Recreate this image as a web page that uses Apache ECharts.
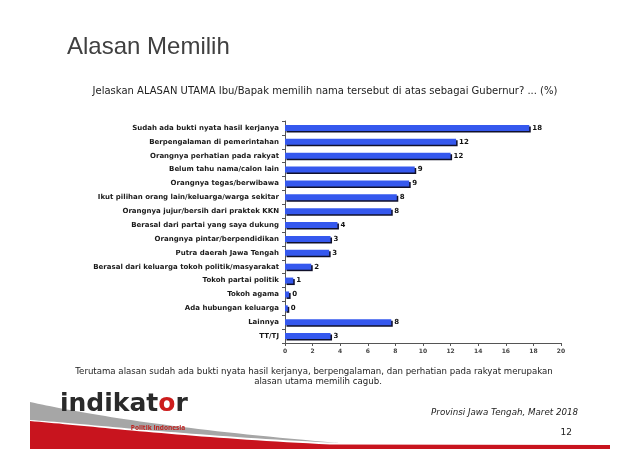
<!DOCTYPE html>
<html>
<head>
<meta charset="utf-8">
<script src="https://cdn.jsdelivr.net/npm/echarts@6/dist/echarts.min.js"></script>
<style>
html,body{margin:0;padding:0;background:#fff;}
#chart{width:640px;height:465px;}
</style>
</head>
<body>
<div id="chart"></div>
<script>
const categories = [
  'Sudah ada bukti nyata hasil kerjanya',
  'Berpengalaman di pemerintahan',
  'Orangnya perhatian pada rakyat',
  'Belum tahu nama/calon lain',
  'Orangnya tegas/berwibawa',
  'Ikut pilihan orang lain/keluarga/warga sekitar',
  'Orangnya jujur/bersih dari praktek KKN',
  'Berasal dari partai yang saya dukung',
  'Orangnya pintar/berpendidikan',
  'Putra daerah Jawa Tengah',
  'Berasal dari keluarga tokoh politik/masyarakat',
  'Tokoh partai politik',
  'Tokoh agama',
  'Ada hubungan keluarga',
  'Lainnya',
  'TT/TJ'
];
const values = [17.7, 12.4, 12.0, 9.4, 9.0, 8.1, 7.7, 3.8, 3.3, 3.2, 1.9, 0.6, 0.3, 0.2, 7.7, 3.3];
const xMin = 0, xMax = 20, xStep = 2;

const titleText = 'Alasan Memilih';
const questionText = 'Jelaskan ALASAN UTAMA Ibu/Bapak memilih nama tersebut di atas sebagai Gubernur? ... (%)';
const noteLine1 = 'Terutama alasan sudah ada bukti nyata hasil kerjanya, berpengalaman, dan perhatian pada rakyat merupakan';
const noteLine2 = 'alasan utama memilih cagub.';
const sourceText = 'Provinsi Jawa Tengah, Maret 2018';
const pageText = '12';

// cubic bezier sampler for the decorative swoosh
function bez(p0, p1, p2, p3, n) {
  const out = [];
  for (let i = 0; i <= n; i++) {
    const t = i / n, u = 1 - t;
    out.push([
      u*u*u*p0[0] + 3*u*u*t*p1[0] + 3*u*t*t*p2[0] + t*t*t*p3[0],
      u*u*u*p0[1] + 3*u*u*t*p1[1] + 3*u*t*t*p2[1] + t*t*t*p3[1]
    ]);
  }
  return out;
}
const greyTop = bez([30,402],[80,413],[170,429],[340,443], 40);
const greyBot = bez([340,443],[190,436],[90,424],[30,420], 40);
const redTop = bez([30,421],[90,426],[180,437],[330,444.5], 40);
const greyPts = greyTop.concat(greyBot);
const redPts = redTop.concat([[610,445],[610,449],[30,449]]);

const chart = echarts.init(document.getElementById('chart'), null, {renderer: 'canvas'});
const option = {
  backgroundColor: '#ffffff',
  animation: false,
  grid: {left: 285, right: 79, top: 121, bottom: 122, containLabel: false},
  xAxis: {
    type: 'value', min: xMin, max: xMax, interval: xStep,
    axisLine: {show: true, lineStyle: {color: '#555', width: 1}},
    axisTick: {show: true, length: 3, lineStyle: {color: '#555'}},
    splitLine: {show: false},
    axisLabel: {fontFamily: 'DejaVu Sans', fontWeight: 'bold', fontSize: 6, color: '#444', margin: 5}
  },
  yAxis: {
    type: 'category', data: categories, inverse: true,
    axisLine: {show: true, lineStyle: {color: '#555', width: 1}},
    axisTick: {show: true, length: 3, lineStyle: {color: '#555'}},
    axisLabel: {fontFamily: 'DejaVu Sans', fontWeight: 'bold', fontSize: 7, color: '#1a1a1a', margin: 6}
  },
  series: [{
    type: 'bar', data: values, barWidth: 6,
    itemStyle: {color: '#3558ee', shadowColor: '#10102a', shadowOffsetX: 1.5, shadowOffsetY: 1.5, shadowBlur: 0},
    label: {show: true, position: 'right', distance: 3, fontFamily: 'DejaVu Sans', fontWeight: 'bold', fontSize: 7, color: '#111',
      formatter: p => String(Math.round(p.value))}
  }],
  graphic: [
    {type: 'text', x: 67, y: 47, style: {text: titleText, fontFamily: 'Liberation Sans', fontSize: 24, fill: '#404040', textVerticalAlign: 'middle'}},
    {type: 'text', x: 325, y: 91, style: {text: questionText, fontFamily: 'DejaVu Sans', fontSize: 10, fill: '#222', textAlign: 'center', textVerticalAlign: 'middle'}},
    {type: 'text', x: 314, y: 372, style: {text: noteLine1, fontFamily: 'DejaVu Sans', fontSize: 8.6, fill: '#222', textAlign: 'center', textVerticalAlign: 'middle'}},
    {type: 'text', x: 318, y: 382, style: {text: noteLine2, fontFamily: 'DejaVu Sans', fontSize: 8.6, fill: '#222', textAlign: 'center', textVerticalAlign: 'middle'}},
    {type: 'polygon', shape: {points: greyPts}, style: {fill: '#a6a6a6'}},
    {type: 'polygon', shape: {points: redPts}, style: {fill: '#c8141e'}},
    {type: 'text', x: 60, y: 404, style: {
      rich: {d: {fontFamily: 'DejaVu Sans', fontWeight: 'bold', fontSize: 25, fill: '#2a2a2a'}, o: {fontFamily: 'DejaVu Sans', fontWeight: 'bold', fontSize: 25, fill: '#cc1c1c'}},
      text: '{d|indikat}{o|o}{d|r}', textVerticalAlign: 'middle'}},
    {type: 'text', x: 158, y: 428, style: {text: 'Politik Indonesia', fontFamily: 'Open Sans', fontWeight: 'bold', fontSize: 6.5, fill: '#c0201e', textAlign: 'center', textVerticalAlign: 'middle'}},
    {type: 'text', x: 578, y: 413, style: {text: sourceText, fontFamily: 'DejaVu Sans', fontStyle: 'italic', fontSize: 8.7, fill: '#222', textAlign: 'right', textVerticalAlign: 'middle'}},
    {type: 'text', x: 572, y: 433, style: {text: pageText, fontFamily: 'DejaVu Sans', fontSize: 9, fill: '#222', textAlign: 'right', textVerticalAlign: 'middle'}}
  ]
};
chart.setOption(option);
</script>
</body>
</html>
